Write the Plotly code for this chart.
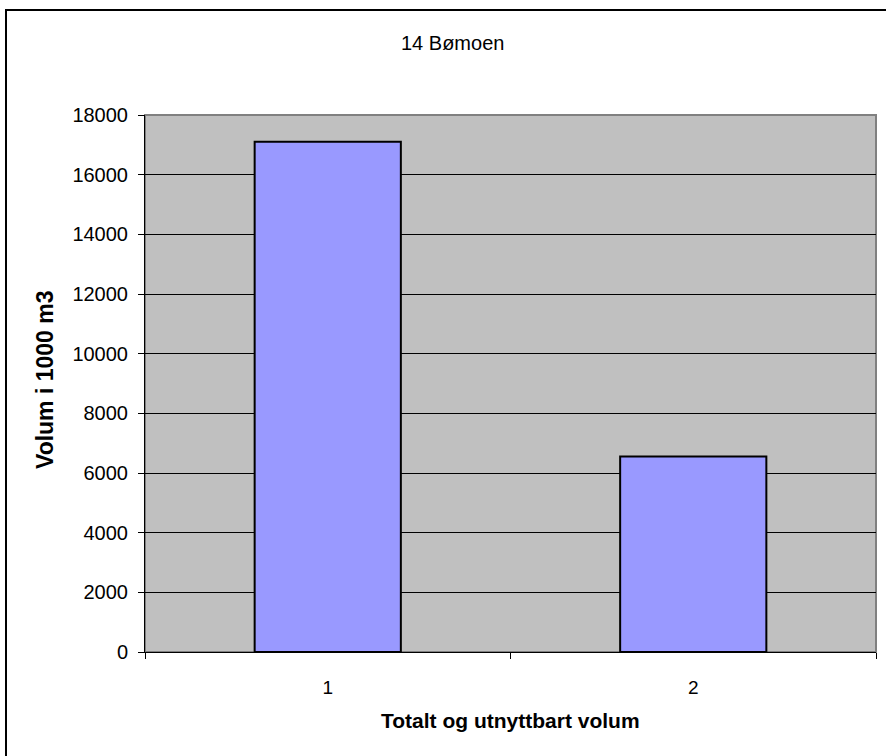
import plotly.graph_objects as go

categories = ["1", "2"]
values = [17100, 6550]
y_ticks = [0, 2000, 4000, 6000, 8000, 10000, 12000, 14000, 16000, 18000]
title_text = "14 Bømoen"
x_title = "Totalt og utnyttbart volum"
y_title = "Volum i 1000 m3"

W, H = 886, 756
L, R, T, B = 145, 10, 115, 104
pw, ph = W - L - R, H - T - B

def px_x(x):
    return (x - L) / pw

def px_y(y):
    return (H - B - y) / ph

fig = go.Figure(go.Bar(
    x=categories, y=values,
    marker=dict(color="#9999ff", line=dict(color="black", width=2)),
    width=0.4,
))

FONT = "Arial, Liberation Sans, sans-serif"

fig.update_layout(
    width=W, height=H,
    margin=dict(l=L, r=R, t=T, b=B),
    paper_bgcolor="white",
    plot_bgcolor="#c0c0c0",
    showlegend=False,
    font=dict(family=FONT, size=19, color="black"),
    shapes=[
        dict(type="rect", xref="paper", yref="paper", x0=0, x1=1, y0=0, y1=1,
             line=dict(color="#808080", width=2), layer="below"),
        dict(type="rect", xref="paper", yref="paper",
             x0=px_x(6), x1=px_x(900), y0=px_y(770), y1=px_y(10),
             line=dict(color="black", width=2)),
    ],
    annotations=[
        dict(text=title_text, xref="paper", yref="paper", x=px_x(452), y=px_y(43),
             xanchor="center", yanchor="middle", showarrow=False, font=dict(size=20)),
        dict(text="<b>" + x_title + "</b>", xref="paper", yref="paper", x=px_x(510), y=px_y(720),
             xanchor="center", yanchor="middle", showarrow=False, font=dict(size=21)),
        dict(text="<b>" + y_title + "</b>", xref="paper", yref="paper", x=px_x(45), y=px_y(380),
             xanchor="center", yanchor="middle", showarrow=False, textangle=-90,
             font=dict(size=23)),
    ],
)

fig.update_xaxes(
    type="category",
    showline=True, linecolor="black", linewidth=1,
    ticks="outside", tickson="boundaries", ticklen=6, tickcolor="black",
    ticklabelstandoff=18,
    showgrid=False,
)
fig.update_yaxes(
    range=[0, 18000],
    tickvals=y_ticks,
    tickformat="d",
    showline=True, linecolor="black", linewidth=1,
    ticks="outside", ticklen=6, tickcolor="black",
    ticklabelstandoff=6,
    tickfont=dict(size=20),
    showgrid=True, gridcolor="black", gridwidth=1,
    zeroline=False,
)

fig.write_html("out.html", config={"displayModeBar": False},
               post_script="document.body.style.margin='0';document.body.style.overflow='hidden';")
